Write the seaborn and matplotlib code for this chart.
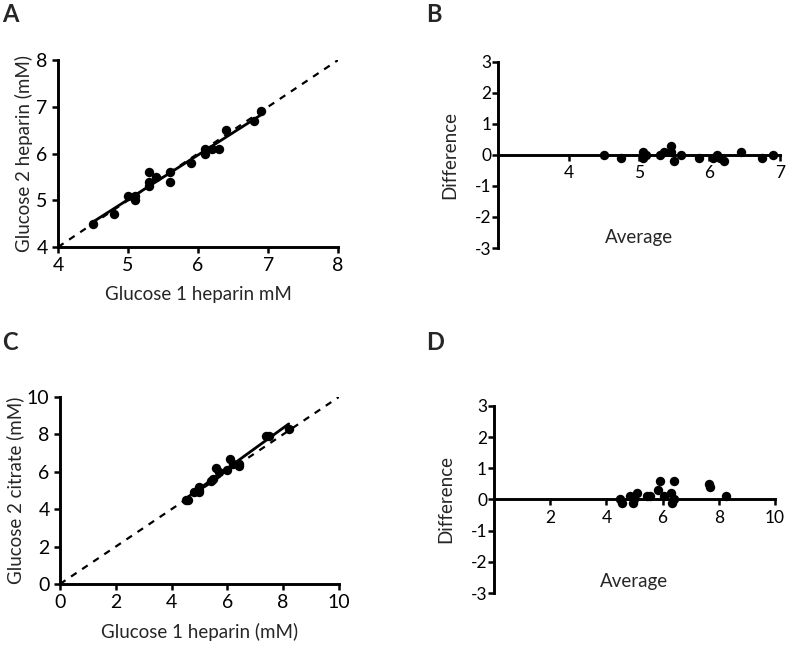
import numpy as np
import pandas as pd
import matplotlib
matplotlib.use("Agg")
import matplotlib.pyplot as plt
import seaborn as sns

sns.set_style("ticks")
plt.rcParams['font.family'] = ['Lato', 'DejaVu Sans']
plt.rcParams['axes.unicode_minus'] = False

# panel A: heparin vs heparin
glu1_hep_a = [4.5, 4.8, 5.0, 5.1, 5.1, 5.3, 5.3, 5.3, 5.4, 5.6, 5.6, 5.9, 6.1, 6.1, 6.2, 6.3, 6.4, 6.8, 6.9]
glu2_hep_a = [4.5, 4.7, 5.1, 5.0, 5.1, 5.3, 5.4, 5.6, 5.5, 5.4, 5.6, 5.8, 6.0, 6.1, 6.1, 6.1, 6.5, 6.7, 6.9]

# panel C: heparin vs citrate
glu1_hep_c = [4.5, 4.6, 4.8, 5.0, 5.0, 5.0, 5.4, 5.5, 5.6, 5.7, 6.0, 6.2, 6.4, 6.4, 6.1, 7.4, 7.5, 8.2]
glu2_cit_c = [4.5, 4.5, 4.9, 5.0, 4.9, 5.2, 5.5, 5.6, 6.2, 6.0, 6.1, 6.4, 6.4, 6.3, 6.7, 7.9, 7.9, 8.3]


def bland_altman(a, b):
    a = np.asarray(a); b = np.asarray(b)
    return pd.DataFrame({"avg": (a + b) / 2, "diff": b - a})


def style_axes(ax, lw=2.1):
    for s in ['top', 'right']:
        ax.spines[s].set_visible(False)
    for s in ['left', 'bottom']:
        ax.spines[s].set_linewidth(lw)
        ax.spines[s].set_color('black')
    ax.tick_params(width=1.8, length=4, direction='out', colors='black')


def plot_scatter(ax, x, y, lim, ticks, xlabel, ylabel):
    df = pd.DataFrame({"x": x, "y": y})
    ax.axline((lim[0], lim[0]), slope=1, color='black', lw=1.6, ls=(0, (3, 3)))
    sns.regplot(data=df, x="x", y="y", ax=ax, scatter=False, ci=None,
                truncate=True, line_kws=dict(color='black', lw=2))
    sns.scatterplot(data=df, x="x", y="y", ax=ax, color='black', s=46,
                    linewidth=0, zorder=3)
    ax.set_xlim(lim); ax.set_ylim(lim)
    ax.set_xticks(ticks); ax.set_yticks(ticks)
    ax.set_xlabel(xlabel, fontsize=13.5, labelpad=8)
    ax.set_ylabel(ylabel, fontsize=13.5, labelpad=2)
    ax.tick_params(labelsize=14)
    style_axes(ax)


def plot_ba(ax, df, xlim, xticks):
    sns.scatterplot(data=df, x="avg", y="diff", ax=ax, color='black', s=46,
                    linewidth=0, zorder=3, clip_on=False)
    ax.set_xlim(xlim); ax.set_ylim(-3, 3)
    ax.set_xticks(xticks); ax.set_yticks(range(-3, 4))
    ax.spines['bottom'].set_position(('data', 0))
    ax.set_xlabel("Average", fontsize=13.5, labelpad=34)
    ax.set_ylabel("Difference", fontsize=13.5, labelpad=12)
    ax.tick_params(labelsize=12.5)
    ax.tick_params(axis='y', pad=1)
    style_axes(ax)


fig = plt.figure(figsize=(7.87, 6.45), dpi=100)
axA = fig.add_axes([0.0737, 0.617, 0.356, 0.290])
axB = fig.add_axes([0.633, 0.6155, 0.358, 0.2885])
axC = fig.add_axes([0.0762, 0.0946, 0.3545, 0.290])
axD = fig.add_axes([0.6277, 0.0806, 0.357, 0.290])

plot_scatter(axA, glu1_hep_a, glu2_hep_a, (4, 8), [4, 5, 6, 7, 8],
             "Glucose 1 heparin mM", "Glucose 2 heparin (mM)")
plot_ba(axB, bland_altman(glu1_hep_a, glu2_hep_a), (3, 7), [4, 5, 6, 7])
plot_scatter(axC, glu1_hep_c, glu2_cit_c, (0, 10), [0, 2, 4, 6, 8, 10],
             "Glucose 1 heparin (mM)", "Glucose 2 citrate (mM)")
plot_ba(axD, bland_altman(glu1_hep_c, glu2_cit_c), (0, 10), [2, 4, 6, 8, 10])

for lab, x, y in [("A", 0.003, 0.995), ("B", 0.541, 0.995),
                  ("C", 0.003, 0.487), ("D", 0.541, 0.487)]:
    fig.text(x, y, lab, fontsize=17, fontweight='bold', va='top', ha='left')

fig.savefig("out.png", dpi=100)
